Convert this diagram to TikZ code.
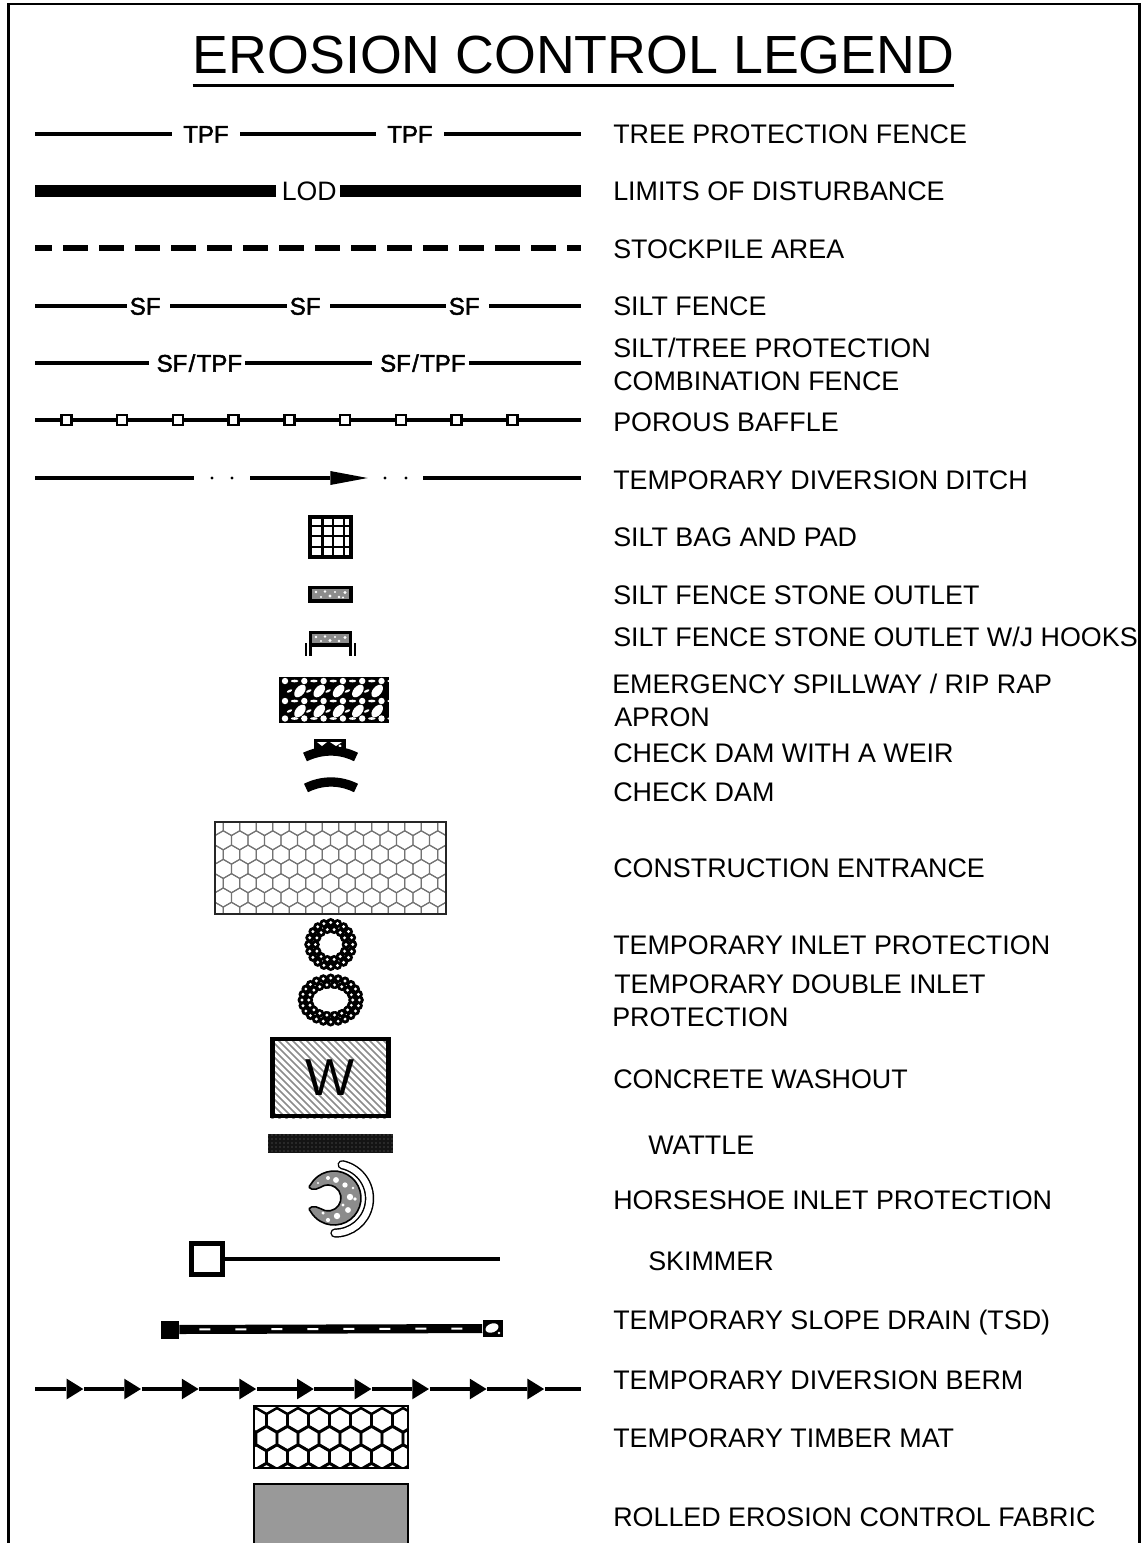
\documentclass[tikz,border=0pt]{standalone}
\usepackage{fontspec}
\setmainfont{Liberation Sans}
\newfontfamily\cadfont[FakeBold=2]{Liberation Sans}
\usepackage{tikz}
\usetikzlibrary{patterns, positioning, shapes.geometric}
\usepackage{xcolor}

\newcommand{\hexcell}[3]{\draw[shift={(#1,#2)}] (30:#3pt) -- (90:#3pt) -- (150:#3pt) -- (210:#3pt) -- (270:#3pt) -- (330:#3pt) -- cycle;}
\newcommand{\beadloop}[6]{\foreach \i in {1,...,#4} \fill[#5,shift={(#1)}] ({360*\i/#4}:#2pt and #3pt) circle[radius=#6pt];}

\begin{document}
\begin{tikzpicture}[x=0.75pt,y=-0.75pt]
  \tikzstyle{sheetline}=[line width=1.8pt]
  \tikzstyle{fence}=[line width=2.3pt]
  \tikzstyle{legendtext}=[anchor=west,inner sep=0pt,text height=14.4pt,text depth=0pt,font=\fontsize{20.15}{24.6}\selectfont]
  \tikzstyle{legendblock}=[anchor=west,inner sep=0pt,align=left,font=\fontsize{20.15}{24.6}\selectfont]
  \tikzstyle{fencetext}=[inner sep=0pt,text height=13pt,text depth=0pt,font=\cadfont\fontsize{18}{20}\selectfont]
  \tikzstyle{bafflebox}=[draw,fill=white,line width=2pt,minimum size=7.5pt,inner sep=0pt]
  \tikzstyle{bermhead}=[isosceles triangle,isosceles triangle stretches,fill=black,inner sep=0pt,minimum width=15.5pt,minimum height=12.5pt,anchor=lower side]
  \tikzstyle{stonebox}=[draw,line width=2.3pt,fill=black!45]

  \fill[white] (0,0) rectangle (1142,1543);
  \useasboundingbox (0,0) rectangle (1142,1543);

  \draw[sheetline] (8.5,1543) -- (8.5,4) -- (1139.5,4) -- (1139.5,1543);

  \node[inner xsep=0pt,inner ysep=9pt,text height=28.8pt,text depth=0pt,font=\fontsize{40.3}{44}\selectfont] (title) at (573.5,54) {EROSION CONTROL LEGEND};
  \draw[line width=1.8pt] (title.south west) -- (title.south east);

  \node[legendtext] (lbl_tpf)     at (613,134)  {TREE PROTECTION FENCE};
  \node[legendtext] (lbl_lod)     at (613,191)  {LIMITS OF DISTURBANCE};
  \node[legendtext] (lbl_stock)   at (613,249)  {STOCKPILE AREA};
  \node[legendtext] (lbl_sf)      at (613,306)  {SILT FENCE};
  \node[legendblock] (lbl_sftpf)  at (613,364)  {SILT/TREE PROTECTION\\COMBINATION FENCE};
  \node[legendtext] (lbl_baffle)  at (613,422)  {POROUS BAFFLE};
  \node[legendtext] (lbl_ditch)   at (613,480)  {TEMPORARY DIVERSION DITCH};
  \node[legendtext] (lbl_bag)     at (613,537)  {SILT BAG AND PAD};
  \node[legendtext] (lbl_outlet)  at (613,595)  {SILT FENCE STONE OUTLET};
  \node[legendtext] (lbl_hooks)   at (613,637)  {SILT FENCE STONE OUTLET W/J HOOKS};
  \node[legendblock] (lbl_riprap) at (612,700.5) {EMERGENCY SPILLWAY / RIP RAP\\\hspace*{1.5pt}APRON};
  \node[legendtext] (lbl_weir)    at (613,753)  {CHECK DAM WITH A WEIR};
  \node[legendtext] (lbl_dam)     at (613,792)  {CHECK DAM};
  \node[legendtext] (lbl_entr)    at (613,868)  {CONSTRUCTION ENTRANCE};
  \node[legendtext] (lbl_inlet)   at (613,945)  {TEMPORARY INLET PROTECTION};
  \node[legendblock] (lbl_double) at (612,1000.5) {\hspace*{1.5pt}TEMPORARY DOUBLE INLET\\PROTECTION};
  \node[legendtext] (lbl_wash)    at (613,1079) {CONCRETE WASHOUT};
  \node[legendtext] (lbl_wattle)  at (648,1145) {WATTLE};
  \node[legendtext] (lbl_horse)   at (613,1200) {HORSESHOE INLET PROTECTION};
  \node[legendtext] (lbl_skim)    at (648,1261) {SKIMMER};
  \node[legendtext] (lbl_tsd)     at (613,1320) {TEMPORARY SLOPE DRAIN (TSD)};
  \node[legendtext] (lbl_berm)    at (613,1380) {TEMPORARY DIVERSION BERM};
  \node[legendtext] (lbl_mat)     at (613,1438) {TEMPORARY TIMBER MAT};
  \node[legendtext] (lbl_fabric)  at (613,1517) {ROLLED EROSION CONTROL FABRIC};

  \coordinate (tpf_w) at (35,134);
  \coordinate (tpf_e) at (581,134);
  \node[fencetext,minimum width=51pt] (tpf_1) at (206,134) {TPF};
  \node[fencetext,minimum width=51pt] (tpf_2) at (410,134) {TPF};
  \draw[fence] (tpf_w) -- (tpf_1) (tpf_1) -- (tpf_2) (tpf_2) -- (tpf_e);

  \coordinate (lod_w) at (35,191);
  \coordinate (lod_e) at (581,191);
  \node[inner sep=0pt,minimum width=48pt,text height=14.4pt,text depth=0pt,font=\fontsize{20}{22}\selectfont] (lod_1) at (308,191) {\kern2pt LOD};
  \draw[line width=8.5pt] (lod_w) -- (lod_1) (lod_1) -- (lod_e);

  \coordinate (stock_w) at (35,248);
  \coordinate (stock_e) at (581,248);
  \draw[line width=4pt,dash pattern=on 18.75pt off 8.25pt,dash phase=6pt] (stock_w) -- (stock_e);

  \coordinate (sf_w) at (35,306);
  \coordinate (sf_e) at (581,306);
  \node[fencetext,minimum width=32pt] (sf_1) at (148.5,306) {SF\kern5pt};
  \node[fencetext,minimum width=32pt] (sf_2) at (308.5,306) {SF\kern5pt};
  \node[fencetext,minimum width=32pt] (sf_3) at (467.5,306) {SF\kern5pt};
  \draw[fence] (sf_w) -- (sf_1) (sf_1) -- (sf_2) (sf_2) -- (sf_3) (sf_3) -- (sf_e);

  \coordinate (sftpf_w) at (35,363);
  \coordinate (sftpf_e) at (581,363);
  \node[fencetext,minimum width=72pt] (sftpf_1) at (197,363) {\kern3.5pt SF\kern1pt/\kern1pt TPF};
  \node[fencetext,minimum width=72pt] (sftpf_2) at (420.5,363) {\kern3.5pt SF\kern1pt/\kern1pt TPF};
  \draw[fence] (sftpf_w) -- (sftpf_1) (sftpf_1) -- (sftpf_2) (sftpf_2) -- (sftpf_e);

  \coordinate (baf_w) at (35,420);
  \coordinate (baf_e) at (581,420);
  \foreach \i in {0,...,8}
    \node[bafflebox] (baf_\i) at ({66.4+55.75*\i},420) {};
  \draw[fence] (baf_w) -- (baf_0) (baf_8) -- (baf_e);
  \foreach \i [count=\n from 1] in {0,...,7}
    \draw[fence] (baf_\i) -- (baf_\n);

  \coordinate (ditch_a) at (35,478);
  \coordinate (ditch_b) at (194,478);
  \coordinate (ditch_c) at (250,478);
  \coordinate (ditch_d) at (423,478);
  \coordinate (ditch_e) at (581,478);
  \node[bermhead,minimum width=10.5pt,minimum height=28pt] (ditch_head) at (330,478) {};
  \foreach \x/\n in {212/1,232/2,385/3,406/4}
    \node[circle,fill=black,inner sep=0pt,minimum size=2.4pt] (ditch_dot\n) at (\x,478) {};
  \draw[fence] (ditch_a) -- (ditch_b) (ditch_c) -- (ditch_head.lower side) (ditch_d) -- (ditch_e);

  \draw[line width=1.8pt] (322.3,517) -- (322.3,557) (333,517) -- (333,557) (344,517) -- (344,557)
                          (310,526) -- (351,526) (310,536) -- (351,536) (310,547) -- (351,547);
  \draw[line width=2.5pt] (310,517) rectangle (351,557);

  \draw[stonebox] (310,587.5) rectangle (351,601);
  \foreach \x/\y/\r in {316/592/1.1,321/597/0.9,325/591.5/1,330/596/1.2,335/592/0.9,339/597/1.1,345/592.5/1.2,343/597.5/0.8}
    \fill[white] (\x,\y) circle[radius=\r pt];

  \draw[stonebox] (310.5,632.5) rectangle (350.5,645);
  \foreach \x/\y/\r in {316/637/1.1,321/641/0.9,325/636.5/1,330/640.5/1.2,335/637/0.9,339/641/1.1,345/637.5/1.2}
    \fill[white] (\x,\y) circle[radius=\r pt];
  \draw[fence] (310.5,645) -- (310.5,656) (350.5,645) -- (350.5,656);
  \draw[line width=1.8pt] (306,643) -- (306,656) (355,643) -- (355,656);

  \fill[black] (279,677) rectangle (389,723);
  \foreach \x in {0,...,5} {
    \foreach \y in {681,701,718.5} {
      \fill[white] ({285+19.3*\x},\y) circle[radius=2.4pt];
      \fill[white] ({294.6+19.3*\x},\y) circle[x radius=2.8pt,y radius=1pt];
    }
  }
  \foreach \x in {0,...,4} {
    \foreach \y in {691,711} {
      \fill[white,shift={({300+19.3*\x},\y)},rotate=50] (0,0) circle[x radius=5.5pt,y radius=3.3pt];
      \fill[white,shift={({289.5+19.3*\x},\y)},rotate=25] (0,0) circle[x radius=2.2pt,y radius=0.9pt];
    }
  }

  \fill[black] (314,739) rectangle (346,752);
  \fill[white] (317,742) -- (327,742) -- (322,746) -- cycle;
  \fill[white] (330,742) -- (342,742) -- (336,746) -- cycle;
  \fill[white] (340,746) circle[radius=1.2pt];
  \draw[line width=7pt] (305,757) .. controls (322,749) and (340,749) .. (356,757);
  \draw[line width=7pt] (306,788) .. controls (322,780) and (340,780) .. (356,788);

  \begin{scope}
    \clip (215,822) rectangle (446,914);
    \foreach \r in {0,...,7} {
      \foreach \c in {0,...,14} {
        \pgfmathsetmacro{\hx}{215+16.5*\c+8.25*mod(\r,2)}
        \pgfmathsetmacro{\hy}{826+14.3*\r}
        \begin{scope}[draw=black!55,line width=0.8pt]
          \hexcell{\hx}{\hy}{7.1}
        \end{scope}
      }
    }
  \end{scope}
  \draw[line width=1.5pt,draw=black!85] (215,822) rectangle (446,914);

  \coordinate (inlet_c) at (330.7,944.5);
  \beadloop{inlet_c}{16.5}{16.5}{20}{black}{3.4}
  \beadloop{inlet_c}{11.5}{11.5}{14}{black}{3.4}
  \beadloop{inlet_c}{16.5}{16.5}{20}{white}{1.2}
  \beadloop{inlet_c}{11.5}{11.5}{14}{white}{1.2}
  \fill[white] (inlet_c) circle[radius=8pt];

  \coordinate (double_c) at (330.7,1000);
  \beadloop{double_c}{21.5}{16.5}{24}{black}{3.4}
  \beadloop{double_c}{16.5}{11.5}{18}{black}{3.4}
  \beadloop{double_c}{21.5}{16.5}{24}{white}{1.2}
  \beadloop{double_c}{16.5}{11.5}{18}{white}{1.2}
  \fill[white] (double_c) circle[x radius=13pt,y radius=8.5pt];

  \begin{scope}
    \clip (271,1037) rectangle (390,1118);
    \foreach \i in {0,...,32}
      \draw[black!45,line width=1.3pt] ({170+7*\i},1030) -- ({270+7*\i},1130);
  \end{scope}
  \node[draw,line width=3.4pt,minimum width=87pt,minimum height=58pt,inner sep=0pt,font=\fontsize{39}{40}\selectfont] (wash_box) at (330.5,1077.5) {W};

  \fill[black!92] (268,1134) rectangle (393,1153);
  \fill[pattern=dots,pattern color=black!55] (268,1134) rectangle (393,1153);

  \coordinate (horse_o) at (334,1198);
  \coordinate (horse_i) at (328,1198);
  \coordinate (horse_b) at (335,1198.5);
  \begin{scope}
    \path[clip] (horse_o) ++(150:20.25pt) arc[start angle=150,end angle=-150,radius=20.25pt] .. controls (305.6,1206.5) and (315.5,1205.2) .. (320.5,1208.6) arc[start angle=-125,end angle=125,radius=9.75pt] .. controls (315.5,1190.8) and (305.6,1189.5) .. cycle;
    \fill[black!45] (300,1165) rectangle (370,1230);
    \foreach \x/\y/\r in {336/1180/2.2,345/1185/2,350/1197/2.4,355/1199/1.4,348/1210/2.2,337/1216/2.4,328/1220/1.6,323/1213/1.3,328/1178/1.5,343/1205/1.2,353/1188/1,318/1183/0.8}
      \fill[white] (\x,\y) circle[radius=\r pt];
  \end{scope}
  \draw[line width=1.2pt] (horse_o) ++(150:20.25pt) arc[start angle=150,end angle=-150,radius=20.25pt] .. controls (305.6,1206.5) and (315.5,1205.2) .. (320.5,1208.6) arc[start angle=-125,end angle=125,radius=9.75pt] .. controls (315.5,1190.8) and (305.6,1189.5) .. cycle;
  \draw[line width=7pt,line cap=round] (horse_b) ++(78:25.9pt) arc[start angle=78,end angle=-90,radius=25.9pt];
  \draw[line width=4.8pt,line cap=round,white] (horse_b) ++(78:25.9pt) arc[start angle=78,end angle=-90,radius=25.9pt];

  \coordinate (skim_e) at (500,1259);
  \node[draw,line width=3.6pt,fill=white,minimum size=23.5pt,inner sep=0pt] (skim_box) at (207,1259) {};
  \draw[line width=3.7pt] (skim_box) -- (skim_e);

  \node[fill=black,minimum size=13.5pt,inner sep=0pt] (tsd_s) at (170,1329.5) {};
  \node[fill=black,minimum width=15pt,minimum height=13pt,inner sep=0pt] (tsd_b) at (492.5,1328.5) {};
  \draw[line width=6.8pt] (tsd_s) -- (tsd_b);
  \draw[white,line width=1.5pt,dash pattern=on 8.25pt off 18.75pt,dash phase=12pt] (tsd_s.east) -- (tsd_b.west);
  \fill[white,shift={(492,1328)},rotate=20] (0,0) circle[x radius=5pt,y radius=3.3pt];
  \fill[white] (499,1333) circle[radius=1pt];

  \coordinate (berm_w) at (35,1389);
  \coordinate (berm_e) at (581,1389);
  \foreach \i in {0,...,8}
    \node[bermhead] (berm_\i) at ({66.4+57.6*\i},1389) {};
  \draw[fence] (berm_w) -- (berm_0.lower side) (berm_8.apex) -- (berm_e);
  \foreach \i [count=\n from 1] in {0,...,7}
    \draw[fence] (berm_\i.apex) -- (berm_\n.lower side);

  \begin{scope}
    \clip (254,1406) rectangle (408,1468);
    \foreach \r in {0,1,2,3} {
      \foreach \c in {0,...,7} {
        \pgfmathsetmacro{\hx}{256+21*\c+10.5*mod(\r,2)}
        \pgfmathsetmacro{\hy}{1420+18.5*\r}
        \begin{scope}[line width=1.9pt]
          \hexcell{\hx}{\hy}{9}
        \end{scope}
      }
    }
  \end{scope}
  \draw[line width=2pt] (254,1406) rectangle (408,1468);

  \fill[black!40] (254,1484) rectangle (408,1543);
  \draw[line width=2pt] (254,1543) -- (254,1484) -- (408,1484) -- (408,1543);
\end{tikzpicture}
\end{document}
